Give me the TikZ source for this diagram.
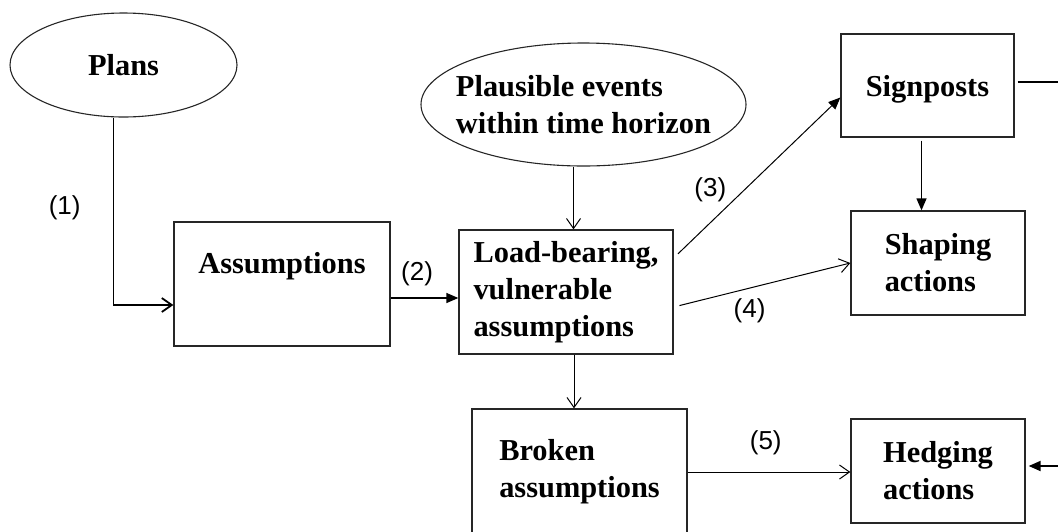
\documentclass[tikz,border=0pt]{standalone}
\usepackage{fontspec}
\setmainfont{Liberation Serif}
\newfontfamily\labelfont{Liberation Sans}
\usepackage{tikz}
\usetikzlibrary{arrows.meta,positioning,calc,shapes.geometric}
\tikzstyle{stage}=[draw=black!85,line width=1.3pt,rectangle,align=left,inner sep=0pt,font=\bfseries\fontsize{30.4}{37}\selectfont]
\tikzstyle{source}=[draw=black!85,line width=1.1pt,ellipse,align=left,inner xsep=-14pt,inner ysep=0pt,font=\bfseries\fontsize{30.4}{37}\selectfont]
\tikzstyle{flow}=[line width=1pt,-{Straight Barb[length=10pt,width=14pt]}]
\tikzstyle{push}=[line width=1pt,-{Triangle[length=12pt,width=10pt]}]
\tikzstyle{tag}=[inner sep=0pt,font=\labelfont\fontsize{26}{30}\selectfont]

\begin{document}
\begin{tikzpicture}[x=1pt,y=-1pt]
\useasboundingbox (0,0) rectangle (1058,531);
% inputs
\node [source, minimum width=227pt, minimum height=104pt] (plans) at (123.5,65) {Plans};
\node [source, minimum width=325pt, minimum height=123pt] (events) at (583.5,104.5) {Plausible events\\within time horizon};
% assumptions
\node [stage, minimum width=216pt, minimum height=124pt, text depth=42pt] (assum) at (282,284) {Assumptions};
\node [stage, minimum width=214pt, minimum height=124pt] (load) at (566,292) {Load-bearing,\\vulnerable\\assumptions};
\node [stage, minimum width=215pt, minimum height=126pt] (broken) at (579.5,472) {Broken\\assumptions};
% responses
\node [stage, minimum width=173pt, minimum height=103pt, text height=28pt] (sign) at (927.5,85.5) {Signposts};
\node [stage, minimum width=174pt, minimum height=104pt] (shape) at (938,263) {Shaping\\actions};
\node [stage, minimum width=174pt, minimum height=104pt] (hedge) at (938,471) {Hedging\\actions};

% plans down into the assumptions
\draw [flow, line width=1.8pt] ([xshift=-10]plans.south) |- node [tag, pos=0.24, left=32pt] (n1) {(1)} ([yshift=-21]assum.west);
\draw [push, line width=1.3pt] ([yshift=-14]assum.east) -- node [tag, pos=0.39, above=11pt] (n2) {(2)} ([yshift=-14]assum.east -| load.west);
\draw [flow] ([xshift=-10]events.south) -- ([xshift=-10]events.south |- load.north);
% out of the load-bearing box
\draw [push, shorten <=6pt] ([yshift=34]load.east) -- node [tag, pos=0.22, above=20pt] (n3) {(3)} ([yshift=-12]sign.west);
\draw [flow, shorten <=6pt] ([yshift=-15]load.east) -- node [tag, pos=0.43, below=10pt] (n4) {(4)} (shape.west);
\draw [flow] ([xshift=8]load.south) -- ([xshift=8]load.south |- broken.north);
\draw [flow] (broken.east) -- node [tag, pos=0.48, above=17pt] (n5) {(5)} (broken.east -| hedge.west);
% signposts feed both kinds of action
\draw [push, line width=1.3pt, shorten <=3pt] ([xshift=-6]sign.south) -- ([xshift=-6]sign.south |- shape.north);
\draw [push, line width=1.8pt, shorten <=3pt, shorten >=3pt] ([yshift=3.5]sign.east) -- ++(50,0) |- ([yshift=5]hedge.east);
\end{tikzpicture}
\end{document}
